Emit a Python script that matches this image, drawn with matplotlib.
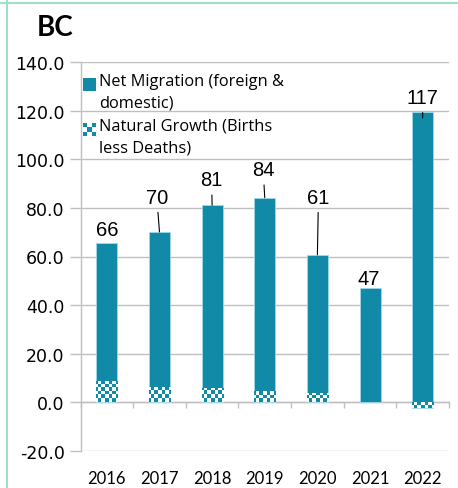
import numpy as np
import matplotlib
matplotlib.use('Agg')
import matplotlib.pyplot as plt
from matplotlib.colors import ListedColormap
from matplotlib.patches import Rectangle, Patch
from matplotlib.lines import Line2D
from matplotlib.legend_handler import HandlerBase

#%% data
years = ['2016', '2017', '2018', '2019', '2020', '2021', '2022']
net_migration = [56.8, 63.9, 75.3, 79.7, 57.0, 47.0, 119.5]
natural_growth = [8.8, 6.2, 5.8, 4.5, 3.7, 0.0, -2.5]
total_labels = ['66', '70', '81', '84', '61', '47', '117']

# label offsets (x in category units, y in data units from the stack total)
label_dx = [0.0, -0.05, -0.01, -0.03, 0.02, -0.03, 0.0]
label_dy = [5.4, 14.3, 10.4, 11.4, 23.6, 4.0, 8.4]

teal = '#118aa8'
edge = '#9fd8e6'
grid_c = '#bfbfbf'

#%% figure
fig = plt.figure(figsize=(4.58, 4.89), dpi=100)
ax = fig.add_axes([80.5/458, 1-452/489, (449-80.5)/458, (452-63)/489])

x = np.arange(len(years))
nat = np.array(natural_growth)
net = np.array(net_migration)
totals = net + nat

nat_bars = ax.bar(x, nat, width=0.4, color='white', edgecolor=edge, linewidth=0.6, zorder=3)
ax.bar(x, net, width=0.4, bottom=np.clip(nat, 0, None), color=teal,
       edgecolor=edge, linewidth=0.6, zorder=3)

# checkerboard fill for the natural growth bars
nrows, ncols = 111, 105
checker = np.add.outer(np.arange(nrows), np.arange(ncols)) % 2
cmap = ListedColormap(['white', teal])
for b in nat_bars:
    if b.get_height() == 0:
        continue
    im = ax.imshow(checker, cmap=cmap, extent=(-0.5, 6.5, -20, 140), aspect='auto',
                   interpolation='nearest', zorder=3.5, origin='lower')
    im.set_clip_path(b)

ax.set_xlim(-0.5, 6.5)
ax.set_ylim(-20, 140)
ax.set_yticks(np.arange(-20, 141, 20))
ax.set_yticklabels(['%.1f' % v for v in np.arange(-20, 141, 20)],
                   fontsize=12.5, family='DejaVu Sans')
ax.tick_params(axis='y', length=8, width=1, color=grid_c, pad=3.5)
ax.set_xticks(x)
ax.set_xticklabels(years, fontsize=12, family='Lato')
ax.tick_params(axis='x', length=0, pad=14)
ax.grid(axis='y', color=grid_c, linewidth=1, zorder=0)
ax.set_axisbelow(True)
for s in ['top', 'right', 'bottom']:
    ax.spines[s].set_visible(False)
ax.spines['left'].set_color(grid_c)
ax.spines['left'].set_linewidth(1)

# category axis on the zero line
sec = ax.secondary_xaxis(20/160)
sec.set_xticks(np.arange(-0.5, 7, 1))
sec.set_xticklabels([])
sec.tick_params(length=4, width=1, color=grid_c, direction='out')
sec.spines['bottom'].set_color(grid_c)
sec.spines['bottom'].set_linewidth(1)

# data labels
for i in x:
    tx = i + label_dx[i]
    ty = totals[i] + label_dy[i]
    props = None
    if label_dy[i] > 7:
        props = dict(arrowstyle='-', color='black', lw=0.8, shrinkA=2, shrinkB=0)
    ax.annotate(total_labels[i], xy=(i, totals[i]), xytext=(tx, ty),
                ha='center', va='center', fontsize=14.5, family='Liberation Sans',
                arrowprops=props, zorder=5)

#%% legend
class HandlerSquare(HandlerBase):
    def __init__(self, checker=False):
        super().__init__()
        self.checker = checker

    def create_artists(self, legend, orig_handle, xdescent, ydescent, width, height,
                       fontsize, trans):
        s = 0.8*fontsize
        x0 = -xdescent
        y0 = -ydescent + height/2 - s/2 + 0.45*fontsize
        arts = [Rectangle((x0, y0), s, s, facecolor=teal if not self.checker else 'white',
                          edgecolor='none', transform=trans)]
        if self.checker:
            n = 3
            c = s/n
            for r in range(n):
                for k in range(n):
                    if (r + k) % 2 == 0:
                        arts.append(Rectangle((x0 + k*c, y0 + r*c), c, c, facecolor=teal,
                                              edgecolor='none', transform=trans))
        return arts

h1 = Patch(label='Net Migration (foreign &\ndomestic)')
h2 = Patch(label='Natural Growth (Births\nless Deaths)')
leg = ax.legend(handles=[h1, h2], loc='upper left', bbox_to_anchor=(-0.02, 0.998),
                frameon=False, prop={'family': 'Open Sans', 'size': 11.8},
                handler_map={h1: HandlerSquare(False), h2: HandlerSquare(True)},
                handlelength=0.8, handletextpad=0.2, labelspacing=0.42, borderaxespad=0.2)
for t in leg.get_texts():
    t.set_linespacing(1.5)

#%% title & frame
fig.text(37/458, 1-28/489, 'BC', fontsize=20, fontweight='bold', family='Lato',
         ha='left', va='center')
fig.add_artist(Line2D([6.5/458, 6.5/458], [0, 1], transform=fig.transFigure,
                      color='#a3dccd', lw=1.5))
fig.add_artist(Line2D([0, 1], [1-3.5/489, 1-3.5/489], transform=fig.transFigure,
                      color='#a3dccd', lw=1.5))

fig.savefig('out.png', dpi=100)
